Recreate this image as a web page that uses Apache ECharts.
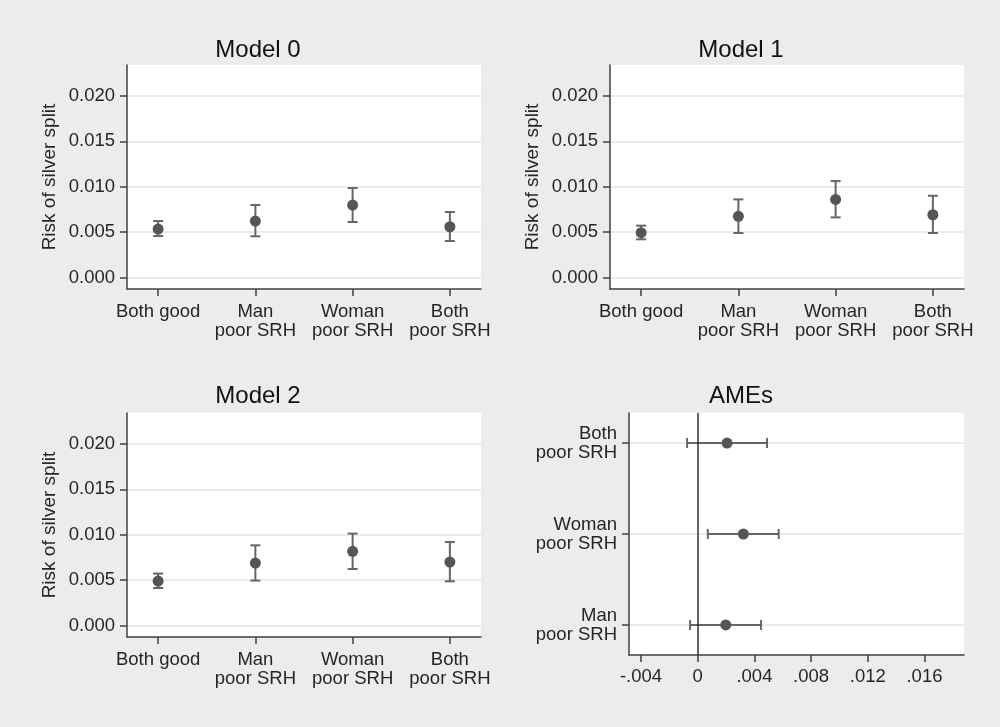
<!doctype html>
<html>
<head>
<meta charset="utf-8">
<title>Risk of silver split</title>
<style>
  html, body { margin: 0; padding: 0; background: #ececec; }
  #chart { width: 1000px; height: 727px; }
</style>
</head>
<body>
<div id="chart"></div>
<script src="https://cdn.jsdelivr.net/npm/echarts@6/dist/echarts.min.js"></script>
<script>
// categories (x positions 1..4 in the model panels)
var categories = ['Both good', 'Man\npoor SRH', 'Woman\npoor SRH', 'Both\npoor SRH'];
var catPos = [1, 2, 3, 4];
var yTicks = [0, 0.005, 0.010, 0.015, 0.020];

// Model 0
var m0Est = [0.00535, 0.00623, 0.00799, 0.00560];
var m0Lo  = [0.00458, 0.00455, 0.00612, 0.00403];
var m0Hi  = [0.00623, 0.00799, 0.00986, 0.00722];
// Model 1
var m1Est = [0.00495, 0.00675, 0.00861, 0.00692];
var m1Lo  = [0.00422, 0.00491, 0.00663, 0.00491];
var m1Hi  = [0.00572, 0.00861, 0.01063, 0.00901];
// Model 2
var m2Est = [0.00491, 0.00689, 0.00818, 0.00700];
var m2Lo  = [0.00414, 0.00496, 0.00623, 0.00488];
var m2Hi  = [0.00573, 0.00884, 0.01013, 0.00921];

// AMEs (bottom to top)
var ameCats = ['Man\npoor SRH', 'Woman\npoor SRH', 'Both\npoor SRH'];
var amePos = [1, 2, 3];
var ameEst = [0.00198, 0.00322, 0.00207];
var ameLo  = [-0.00054, 0.00071, -0.00075];
var ameHi  = [0.00447, 0.00571, 0.00489];
var ameTicks = [-0.004, 0, 0.004, 0.008, 0.012, 0.016];

var FONT = '"Liberation Sans", Arial, sans-serif';
var AXIS = '#404040';
var GRIDLINE = '#e4e4e4';
var MARK = '#555555';
var BAR = '#666666';
var FS = 18.5;

var grids = [
    { left: 127, top: 65, width: 354, height: 224 },
    { left: 610, top: 65, width: 354, height: 224 },
    { left: 127, top: 413, width: 354, height: 224 },
    { left: 629, top: 413, width: 335, height: 242 }
];

function vBars(params, api) {
    var x = api.value(0);
    var lo = api.coord([x, api.value(1)]);
    var hi = api.coord([x, api.value(2)]);
    var st = { stroke: BAR, lineWidth: 2 };
    return { type: 'group', children: [
        { type: 'line', shape: { x1: lo[0], y1: lo[1], x2: hi[0], y2: hi[1] }, style: st },
        { type: 'line', shape: { x1: lo[0] - 5, y1: lo[1], x2: lo[0] + 5, y2: lo[1] }, style: st },
        { type: 'line', shape: { x1: hi[0] - 5, y1: hi[1], x2: hi[0] + 5, y2: hi[1] }, style: st }
    ]};
}

function hBars(params, api) {
    var y = api.value(0);
    var lo = api.coord([api.value(1), y]);
    var hi = api.coord([api.value(2), y]);
    var st = { stroke: BAR, lineWidth: 2 };
    return { type: 'group', children: [
        { type: 'line', shape: { x1: lo[0], y1: lo[1], x2: hi[0], y2: hi[1] }, style: st },
        { type: 'line', shape: { x1: lo[0], y1: lo[1] - 5, x2: lo[0], y2: lo[1] + 5 }, style: st },
        { type: 'line', shape: { x1: hi[0], y1: hi[1] - 5, x2: hi[0], y2: hi[1] + 5 }, style: st }
    ]};
}

function catXAxis(i) {
    return {
        gridIndex: i, type: 'value', min: 0.68, max: 4.32,
        axisLine: { show: true, onZero: false, lineStyle: { color: AXIS, width: 1.5 } },
        axisTick: { show: true, length: 7, customValues: catPos, lineStyle: { color: AXIS, width: 1.5 } },
        axisLabel: {
            customValues: catPos, margin: 13, fontSize: FS, lineHeight: 19,
            color: '#262626', fontFamily: FONT,
            formatter: function (v) { return categories[Math.round(v) - 1]; }
        },
        splitLine: { show: false }
    };
}

function riskYAxis(i) {
    return {
        gridIndex: i, type: 'value', min: -0.00125, max: 0.0234,
        name: 'Risk of silver split', nameLocation: 'middle', nameGap: 68,
        nameTextStyle: { fontSize: 19, color: '#262626', fontFamily: FONT },
        axisLine: { show: true, onZero: false, lineStyle: { color: AXIS, width: 1.5 } },
        axisTick: { show: true, length: 7, customValues: yTicks, lineStyle: { color: AXIS, width: 1.5 } },
        axisLabel: {
            customValues: yTicks, margin: 12, fontSize: FS, color: '#262626', fontFamily: FONT,
            formatter: function (v) { return v.toFixed(3); }
        },
        splitLine: { show: true, lineStyle: { color: GRIDLINE, width: 1.5 } }
    };
}

function zip3(a, b, c) {
    return a.map(function (v, k) { return [v, b[k], c[k]]; });
}
function zip2(a, b) {
    return a.map(function (v, k) { return [v, b[k]]; });
}

var chart = echarts.init(document.getElementById('chart'));
var option = {
    animation: false,
    backgroundColor: '#ececec',
    title: [
        { text: 'Model 0', left: 258, top: 38 },
        { text: 'Model 1', left: 741, top: 38 },
        { text: 'Model 2', left: 258, top: 384 },
        { text: 'AMEs', left: 741, top: 384 }
    ].map(function (t) {
        t.textAlign = 'center';
        t.padding = 0;
        t.textStyle = { fontSize: 24, fontWeight: 'normal', color: '#111', fontFamily: FONT };
        return t;
    }),
    grid: grids.map(function (g) {
        g.show = true; g.backgroundColor = '#ffffff'; g.borderWidth = 0;
        return g;
    }),
    xAxis: [
        catXAxis(0), catXAxis(1), catXAxis(2),
        {
            gridIndex: 3, type: 'value', min: -0.00485, max: 0.01879,
            axisLine: { show: true, onZero: false, lineStyle: { color: AXIS, width: 1.5 } },
            axisTick: { show: true, length: 7, customValues: ameTicks, lineStyle: { color: AXIS, width: 1.5 } },
            axisLabel: {
                customValues: ameTicks, margin: 12, fontSize: FS, color: '#262626', fontFamily: FONT,
                formatter: function (v) {
                    if (Math.abs(v) < 1e-9) return '0';
                    return v.toFixed(3).replace('0.', '.');
                }
            },
            splitLine: { show: false }
        }
    ],
    yAxis: [
        riskYAxis(0), riskYAxis(1), riskYAxis(2),
        {
            gridIndex: 3, type: 'value', min: 0.67, max: 3.33,
            axisLine: { show: true, onZero: false, lineStyle: { color: AXIS, width: 1.5 } },
            axisTick: { show: true, length: 7, customValues: amePos, lineStyle: { color: AXIS, width: 1.5 } },
            axisLabel: {
                customValues: amePos, margin: 12, fontSize: FS, lineHeight: 19,
                color: '#262626', fontFamily: FONT, align: 'right',
                formatter: function (v) { return ameCats[Math.round(v) - 1]; }
            },
            splitLine: { show: true, lineStyle: { color: GRIDLINE, width: 1.5 } }
        }
    ],
    series: [
        { type: 'custom', xAxisIndex: 0, yAxisIndex: 0, renderItem: vBars, data: zip3(catPos, m0Lo, m0Hi), z: 2 },
        { type: 'scatter', xAxisIndex: 0, yAxisIndex: 0, symbolSize: 11, itemStyle: { color: MARK, opacity: 1 }, data: zip2(catPos, m0Est), z: 3 },
        { type: 'custom', xAxisIndex: 1, yAxisIndex: 1, renderItem: vBars, data: zip3(catPos, m1Lo, m1Hi), z: 2 },
        { type: 'scatter', xAxisIndex: 1, yAxisIndex: 1, symbolSize: 11, itemStyle: { color: MARK, opacity: 1 }, data: zip2(catPos, m1Est), z: 3 },
        { type: 'custom', xAxisIndex: 2, yAxisIndex: 2, renderItem: vBars, data: zip3(catPos, m2Lo, m2Hi), z: 2 },
        { type: 'scatter', xAxisIndex: 2, yAxisIndex: 2, symbolSize: 11, itemStyle: { color: MARK, opacity: 1 }, data: zip2(catPos, m2Est), z: 3 },
        {
            type: 'custom', xAxisIndex: 3, yAxisIndex: 3, renderItem: hBars,
            encode: { x: [1, 2], y: 0 },
            data: zip3(amePos, ameLo, ameHi), z: 2
        },
        {
            type: 'scatter', xAxisIndex: 3, yAxisIndex: 3, symbolSize: 11,
            itemStyle: { color: MARK, opacity: 1 }, data: zip2(ameEst, amePos), z: 3,
            markLine: {
                silent: true, symbol: 'none', label: { show: false },
                lineStyle: { color: '#333333', width: 1.5, type: 'solid' },
                data: [{ xAxis: 0 }]
            }
        }
    ]
};
chart.setOption(option);
</script>
</body>
</html>
